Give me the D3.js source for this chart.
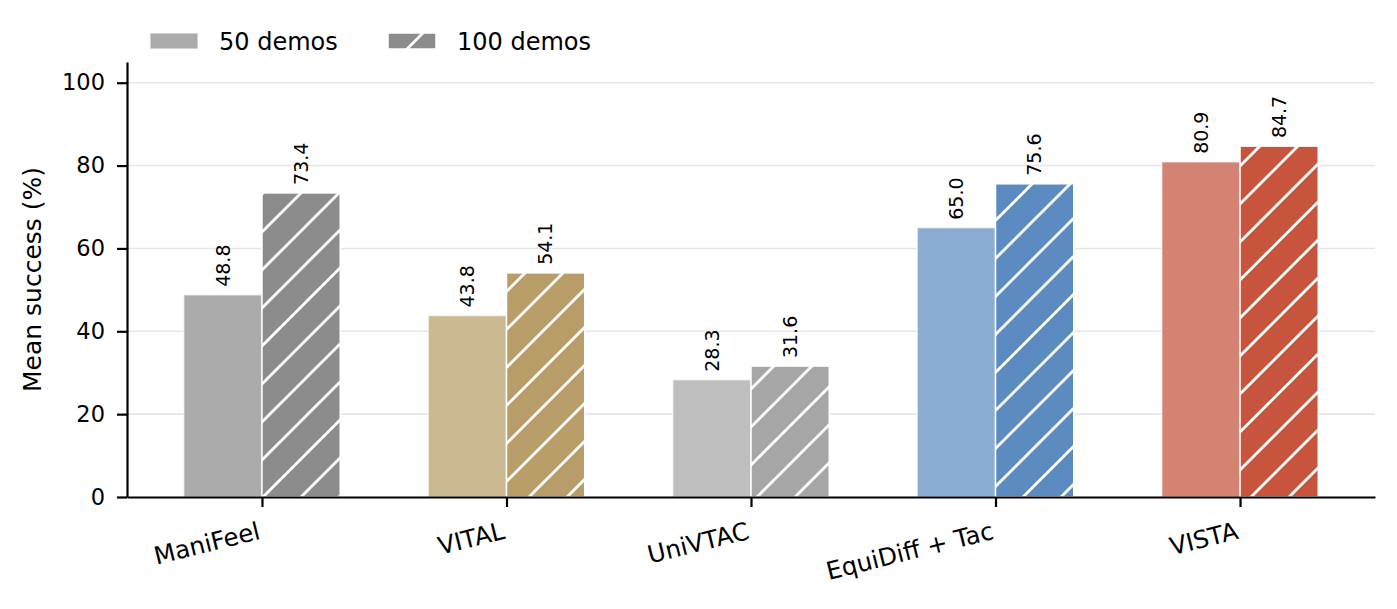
<!DOCTYPE html>
<html>
<head>
<meta charset="utf-8">
<script src="https://cdn.jsdelivr.net/npm/d3@7"></script>
<style>
  body { margin: 0; background: #fff; }
  svg { display: block; font-family: "DejaVu Sans", sans-serif; }
</style>
</head>
<body>
<div id="chart"></div>
<script>
// values
const methods = ["ManiFeel", "VITAL", "UniVTAC", "EquiDiff + Tac", "VISTA"];
const demos50 = [48.8, 43.8, 28.3, 65.0, 80.9];
const demos100 = [73.4, 54.1, 31.6, 75.6, 84.7];
const colors50 = ["#ababab", "#cbb992", "#bebebe", "#8aabd2", "#d48271"];
const colors100 = ["#8c8c8c", "#b89d68", "#a6a6a6", "#5c8bc1", "#c7553d"];
const seriesLabels = ["50 demos", "100 demos"];
const yTicks = [0, 20, 40, 60, 80, 100];

const width = 1397, height = 609;
const barW = 0.32;

const svg = d3.select("#chart").append("svg")
    .attr("width", width)
    .attr("height", height);

// hatch pattern: white diagonal lines only, laid on top of the coloured bar
const defs = svg.append("defs");
const hs = 38;
const pat = defs.append("pattern")
    .attr("id", "hatch")
    .attr("patternUnits", "userSpaceOnUse")
    .attr("width", hs)
    .attr("height", hs);
pat.append("path")
    .attr("d", `M0,${hs} L${hs},0 M${-hs / 4},${hs / 4} L${hs / 4},${-hs / 4} M${hs * 3 / 4},${hs * 5 / 4} L${hs * 5 / 4},${hs * 3 / 4}`)
    .attr("stroke", "#fff")
    .attr("stroke-width", 2.8);

// scales
let x = d3.scaleLinear().domain([-0.552, methods.length - 1 + 0.552]).range([127, 1375]);
let y = d3.scaleLinear().domain([0, 105]).range([497, 62]);

// grid
svg.append("g").selectAll("line")
    .data(yTicks.filter(d => d > 0))
    .enter().append("line")
    .attr("x1", x.range()[0])
    .attr("x2", x.range()[1])
    .attr("y1", d => y(d))
    .attr("y2", d => y(d))
    .attr("stroke", "#e6e6e6")
    .attr("stroke-width", 1.6);

const idx = d3.range(methods.length);

// 50 demos bars
svg.append("g").selectAll("rect")
    .data(idx)
    .enter().append("rect")
    .attr("x", i => x(i - barW))
    .attr("width", i => x(i) - x(i - barW))
    .attr("y", i => y(demos50[i]))
    .attr("height", i => y(0) - y(demos50[i]))
    .attr("fill", i => colors50[i])
    .attr("stroke", "#fff")
    .attr("stroke-opacity", 0.6)
    .attr("stroke-width", 1.5);

// 100 demos bars: colour, then hatch, then white edge
const g100 = svg.append("g");
g100.selectAll("rect.fill")
    .data(idx)
    .enter().append("rect")
    .attr("class", "fill")
    .attr("x", i => x(i))
    .attr("width", i => x(i + barW) - x(i))
    .attr("y", i => y(demos100[i]))
    .attr("height", i => y(0) - y(demos100[i]))
    .attr("fill", i => colors100[i]);
g100.selectAll("rect.hatch")
    .data(idx)
    .enter().append("rect")
    .attr("class", "hatch")
    .attr("x", i => x(i))
    .attr("width", i => x(i + barW) - x(i))
    .attr("y", i => y(demos100[i]))
    .attr("height", i => y(0) - y(demos100[i]))
    .attr("fill", "url(#hatch)")
    .attr("stroke", "#fff")
    .attr("stroke-width", 1.5);

// value labels
const labels = idx.map(i => ({cx: i - barW / 2, v: demos50[i]}))
    .concat(idx.map(i => ({cx: i + barW / 2, v: demos100[i]})));
svg.append("g").selectAll("text")
    .data(labels)
    .enter().append("text")
    .attr("transform", d => "translate(" + x(d.cx) + "," + (y(d.v) - 8) + ") rotate(-90)")
    .attr("dy", "0.36em")
    .attr("text-anchor", "start")
    .style("font-size", "19px")
    .text(d => d.v.toFixed(1));

// axes
const yAxis = svg.append("g")
    .attr("transform", "translate(" + x.range()[0] + ",0)")
    .call(d3.axisLeft(y).tickValues(yTicks).tickSize(10).tickSizeOuter(0).tickPadding(12));
const xAxis = svg.append("g")
    .attr("transform", "translate(0," + y(0) + ")")
    .call(d3.axisBottom(x).tickValues(idx).tickSize(10).tickSizeOuter(0).tickFormat(i => methods[i]));

[yAxis, xAxis].forEach(a => {
    a.select(".domain").attr("stroke", "#000").attr("stroke-width", 2.2);
    a.selectAll(".tick line").attr("stroke", "#000").attr("stroke-width", 2.2);
    a.selectAll("text").attr("fill", "#000").style("font-family", "DejaVu Sans");
});
yAxis.selectAll("text").style("font-size", "22.5px");
xAxis.selectAll("text")
    .attr("x", null)
    .attr("y", null)
    .attr("dy", null)
    .attr("text-anchor", "end")
    .attr("transform", "translate(-1,41.5) rotate(-14)")
    .style("font-size", "24.5px");

// y label
svg.append("text")
    .attr("transform", "translate(32," + (y(0) + y(105)) / 2 + ") rotate(-90)")
    .attr("text-anchor", "middle")
    .attr("dy", "0.36em")
    .style("font-size", "25px")
    .text("Mean success (%)");

// legend
const legendX = [150, 388];
const leg = svg.append("g");
seriesLabels.forEach((s, k) => {
    const lx = legendX[k];
    if (k === 0) {
        leg.append("rect")
            .attr("x", lx).attr("y", 33).attr("width", 48).attr("height", 16)
            .attr("fill", colors50[0])
            .attr("stroke", "#fff").attr("stroke-opacity", 0.6).attr("stroke-width", 1.5);
    } else {
        leg.append("rect")
            .attr("x", lx).attr("y", 33).attr("width", 48).attr("height", 16)
            .attr("fill", colors100[0]);
        leg.append("rect")
            .attr("x", lx).attr("y", 33).attr("width", 48).attr("height", 16)
            .attr("fill", "url(#hatch)")
            .attr("stroke", "#fff").attr("stroke-width", 1.5);
    }
    leg.append("text")
        .attr("x", lx + 69)
        .attr("y", 50)
        .style("font-size", "24px")
        .text(s);
});
</script>
</body>
</html>
